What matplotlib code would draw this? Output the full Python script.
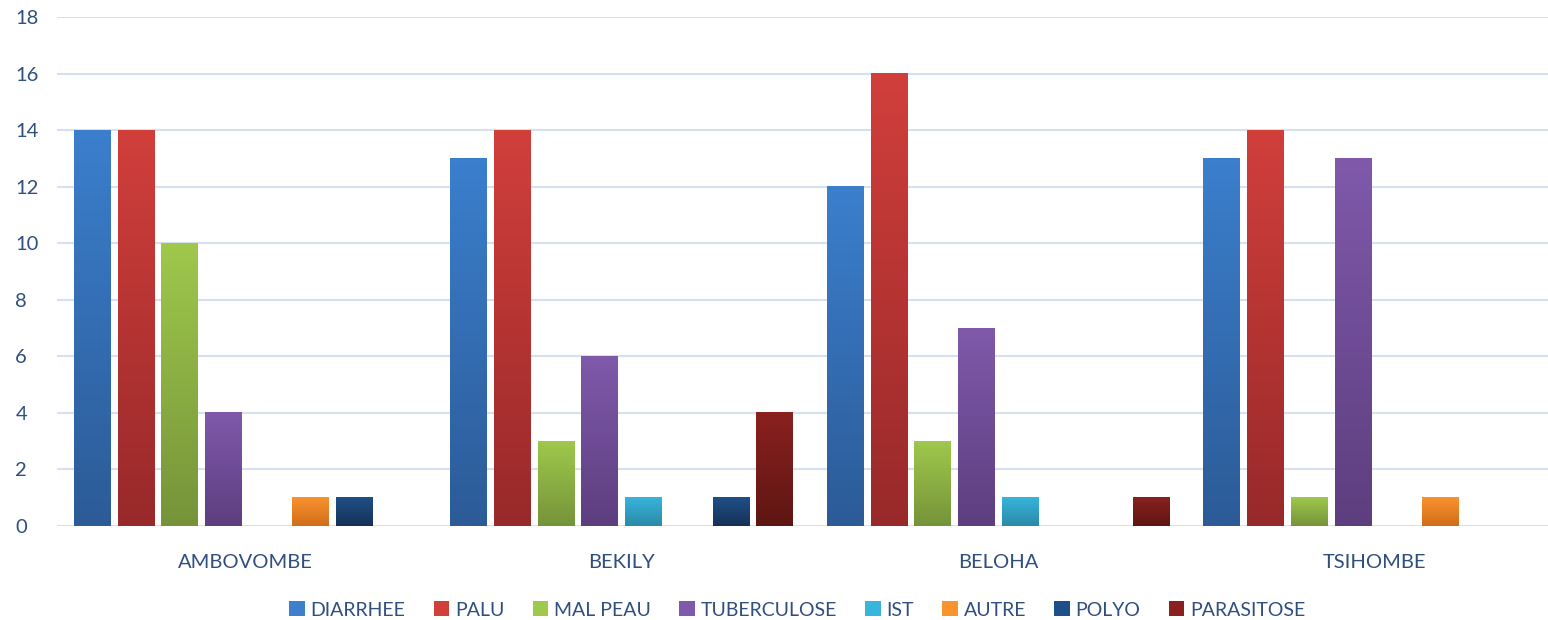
import numpy as np
import matplotlib.pyplot as plt
from matplotlib.colors import LinearSegmentedColormap
from matplotlib.patches import Patch

# DATA
districts = ['AMBOVOMBE', 'BEKILY', 'BELOHA', 'TSIHOMBE']
diseases = ['DIARRHEE', 'PALU', 'MAL PEAU', 'TUBERCULOSE', 'IST', 'AUTRE', 'POLYO', 'PARASITOSE']
diarrhee = [14, 13, 12, 13]
palu = [14, 14, 16, 14]
mal_peau = [10, 3, 3, 1]
tuberculose = [4, 6, 7, 13]
ist = [0, 1, 1, 0]
autre = [1, 0, 0, 1]
polyo = [1, 1, 0, 0]
parasitose = [0, 4, 1, 0]
series = [diarrhee, palu, mal_peau, tuberculose, ist, autre, polyo, parasitose]

# top / bottom gradient colours
top_cols = ['#3B7FCD', '#D13F3B', '#9FC84C', '#8059AB', '#37B5DC', '#F9932F', '#1F4F88', '#8A211F']
bot_cols = ['#2C5B97', '#98292A', '#76933A', '#5D3E7E', '#2A8AA5', '#D16D1A', '#163158', '#5E1613']

text_col = '#2F4F7F'
plt.rcParams['font.family'] = ['Lato', 'DejaVu Sans']

fig = plt.figure(figsize=(15.48, 6.2), dpi=100)
ax = fig.add_axes([57/1548, 94/620, 1 - 57/1548, (526-17)/620])

x = np.arange(len(districts))
slot = 0.116
width = 0.098

for i, vals in enumerate(series):
    bars = ax.bar(x + (i - 3.5) * slot, vals, width, color='none', zorder=3)
    cmap = LinearSegmentedColormap.from_list('g%d' % i, [bot_cols[i], top_cols[i]])
    grad = np.linspace(0, 1, 256).reshape(-1, 1)
    for b in bars:
        h = b.get_height()
        if h <= 0:
            continue
        x0 = b.get_x()
        ax.imshow(grad, extent=(x0, x0 + b.get_width(), 0, h), origin='lower',
                  cmap=cmap, aspect='auto', zorder=3)

ax.set_xlim(-0.5, 3.46)
ax.set_ylim(0, 18)
ax.set_yticks(range(0, 19, 2))
ax.set_xticks(x)
ax.set_xticklabels(districts)
ax.grid(axis='y', color='#D5E0F0', linewidth=1.5, zorder=0)
ax.set_axisbelow(True)
for s in ax.spines.values():
    s.set_visible(False)
ax.tick_params(axis='both', length=0, labelsize=14.5, colors=text_col)
ax.tick_params(axis='x', pad=20)
ax.tick_params(axis='y', pad=30)
for lbl in ax.get_yticklabels():
    lbl.set_horizontalalignment('left')

handles = [Patch(facecolor=top_cols[i], edgecolor='none') for i in range(len(diseases))]
leg = fig.legend(handles, diseases, loc='center', bbox_to_anchor=(0.515, 1 - 610/620),
                 ncol=8, frameon=False, fontsize=14, handlelength=0.8, handleheight=0.8,
                 handletextpad=0.3, columnspacing=1.45)
for t in leg.get_texts():
    t.set_color(text_col)

fig.savefig('out.png', dpi=100)
